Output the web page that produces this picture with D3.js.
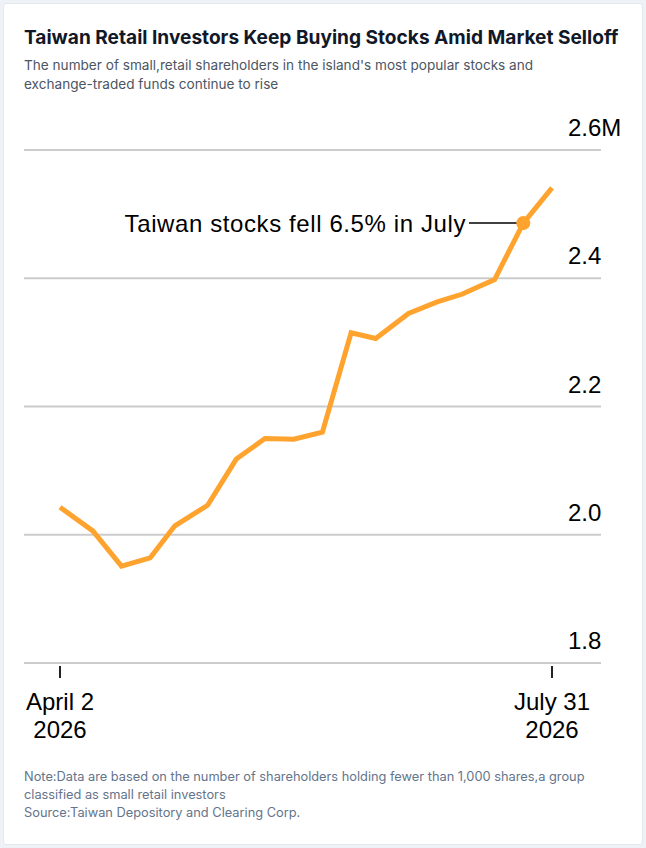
<!DOCTYPE html>
<html>
<head>
<meta charset="utf-8">
<script src="https://cdn.jsdelivr.net/npm/d3@7"></script>
<style>
  html, body { margin: 0; padding: 0; background: #eef2f7; }
  #card {
    position: absolute; left: 3px; top: 3px; width: 638px; height: 840px;
    background: #fff; border: 1px solid #e4e9f0; border-radius: 3px;
  }
  svg { position: absolute; left: 0; top: 0; }
</style>
</head>
<body>
<div id="card"></div>
<div id="chart"></div>
<script>
// weekly shareholder counts (millions)
const dates = ['2026-04-02', '2026-04-10', '2026-04-17', '2026-04-24', '2026-04-30',
  '2026-05-08', '2026-05-15', '2026-05-22', '2026-05-29', '2026-06-05', '2026-06-12',
  '2026-06-18', '2026-06-26', '2026-07-03', '2026-07-09', '2026-07-17', '2026-07-24', '2026-07-31'];
const holders = [2.043, 2.006, 1.951, 1.964, 2.014, 2.046, 2.118, 2.150, 2.149, 2.160,
  2.315, 2.306, 2.345, 2.363, 2.375, 2.398, 2.486, 2.541];
const yTicks = [1.8, 2.0, 2.2, 2.4, 2.6];
const yTickLabels = ['1.8', '2.0', '2.2', '2.4', '2.6M'];
const xTickDates = ['2026-04-02', '2026-07-31'];
const xTickLabels = [['April 2', '2026'], ['July 31', '2026']];
const noteDate = '2026-07-24';
const noteText = 'Taiwan stocks fell 6.5% in July';

const title = 'Taiwan Retail Investors Keep Buying Stocks Amid Market Selloff';
const subtitle = ["The number of small,retail shareholders in the island's most popular stocks and",
  'exchange-traded funds continue to rise'];
const footer = ['Note:Data are based on the number of shareholders holding fewer than 1,000 shares,a group',
  'classified as small retail investors', 'Source:Taiwan Depository and Clearing Corp.'];

const W = 646, H = 848;
const parse = d3.timeParse('%Y-%m-%d');
const data = dates.map((d, i) => ({ date: parse(d), value: holders[i] }));

const svg = d3.select('#chart').append('svg').attr('width', W).attr('height', H);

// header
const uiFont = 'Inter, "Noto Sans", sans-serif';
svg.append('text').attr('x', 24).attr('y', 43.5)
  .style('font-family', uiFont).style('font-weight', 700).style('font-size', '19.1px')
  .attr('fill', '#111827').text(title);
svg.append('g').selectAll('text').data(subtitle).join('text')
  .attr('x', 24).attr('y', (d, i) => 69.5 + i * 19)
  .style('font-family', uiFont).style('font-size', '13.6px').attr('fill', '#4b5563')
  .text(d => d);

// scales
const x = d3.scaleTime().domain([parse(xTickDates[0]), parse(xTickDates[1])]).range([60, 552]);
const y = d3.scaleLinear().domain([1.8, 2.6]).range([663, 150]);

const chartFont = '"Liberation Sans", Arial, Helvetica, sans-serif';

// gridlines + labels
const grid = svg.append('g');
grid.selectAll('line').data(yTicks).join('line')
  .attr('x1', 24).attr('x2', 601)
  .attr('y1', d => y(d)).attr('y2', d => y(d))
  .attr('stroke', '#cccccc').attr('stroke-width', 2);
grid.selectAll('text').data(yTicks).join('text')
  .attr('x', 568).attr('y', d => y(d) - 14)
  .style('font-family', chartFont).style('font-size', '24px').attr('fill', '#000')
  .text((d, i) => yTickLabels[i]);

// x axis ticks
const xa = svg.append('g');
xa.selectAll('line').data(xTickDates).join('line')
  .attr('x1', d => x(parse(d))).attr('x2', d => x(parse(d)))
  .attr('y1', 666).attr('y2', 678)
  .attr('stroke', '#222').attr('stroke-width', 2);
xa.selectAll('text').data(xTickDates).join('text')
  .attr('x', d => x(parse(d))).attr('y', 710)
  .attr('text-anchor', 'middle')
  .style('font-family', chartFont).style('font-size', '24px').attr('fill', '#000')
  .selectAll('tspan').data((d, i) => xTickLabels[i]).join('tspan')
  .attr('x', function () { return this.parentNode.getAttribute('x'); })
  .attr('dy', (d, i) => i === 0 ? 0 : 28)
  .text(d => d);

// line
const line = d3.line().x(d => x(d.date)).y(d => y(d.value));
svg.append('path').datum(data)
  .attr('d', line)
  .attr('fill', 'none').attr('stroke', '#ffa32f').attr('stroke-width', 5)
  .attr('stroke-linejoin', 'miter').attr('stroke-linecap', 'butt');

// annotation
const np = data.find(d => +d.date === +parse(noteDate));
const nx = x(np.date), ny = y(np.value);
svg.append('line').attr('x1', 469).attr('x2', nx).attr('y1', ny).attr('y2', ny)
  .attr('stroke', '#000').attr('stroke-width', 1.5);
svg.append('circle').attr('cx', nx).attr('cy', ny).attr('r', 7).attr('fill', '#ffa32f');
svg.append('text').attr('x', 466).attr('y', ny + 9)
  .attr('text-anchor', 'end')
  .style('font-family', chartFont).style('font-size', '24px').style('letter-spacing', '0.6px')
  .attr('fill', '#000')
  .text(noteText);

// footer
svg.append('g').selectAll('text').data(footer).join('text')
  .attr('x', 24).attr('y', (d, i) => 781 + i * 18)
  .style('font-family', uiFont).style('font-size', '12.8px').attr('fill', '#64748b')
  .text(d => d);
</script>
</body>
</html>
